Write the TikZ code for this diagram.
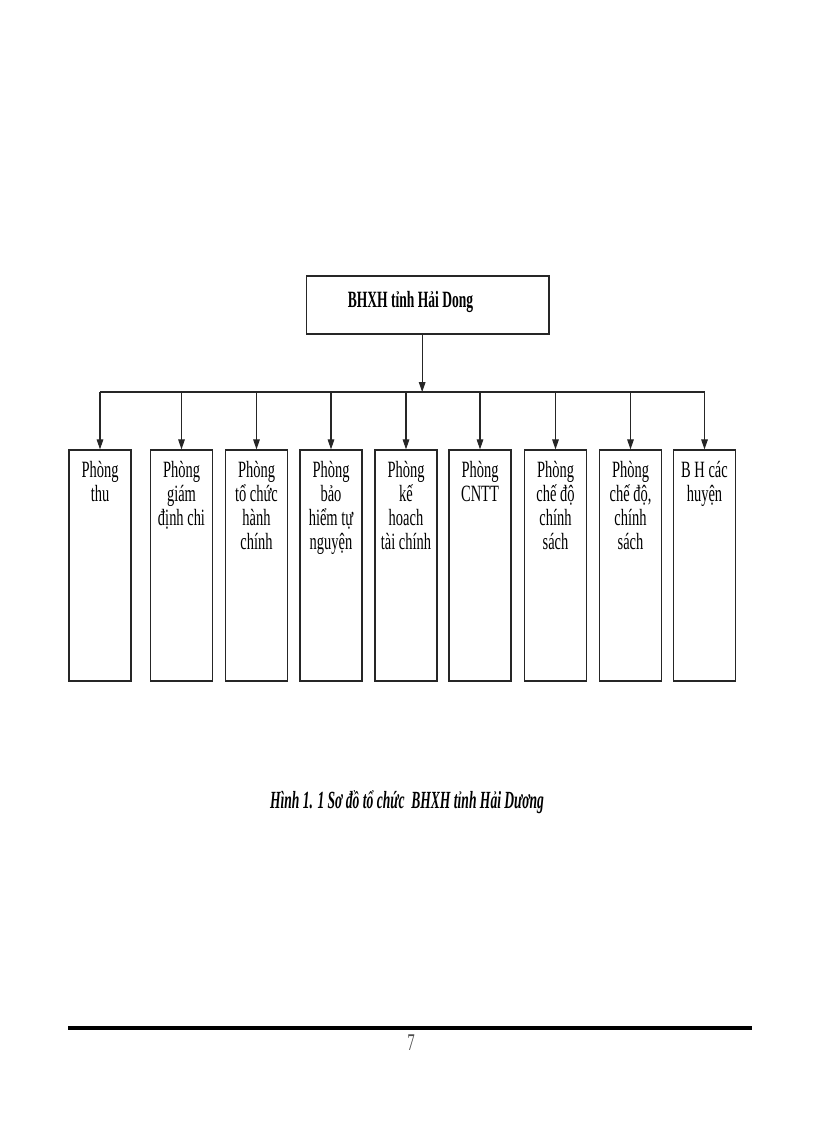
\documentclass[tikz,border=0pt]{standalone}
\usepackage{fontspec}
\usetikzlibrary{arrows.meta}
\newfontfamily\boxfont[FakeStretch=0.62]{Liberation Serif}
\newfontfamily\headfont[FakeStretch=0.58]{Liberation Serif}
\newfontfamily\captfont[FakeStretch=0.55]{Liberation Serif}
\setlength{\lineskiplimit}{-20pt}

\begin{document}
\begin{tikzpicture}[x=0.75pt, y=-0.75pt,
    unitbox/.style={rectangle, draw=black!85, line width=1pt, minimum width=46.5pt, minimum height=173.25pt, inner sep=0pt},
    unittext/.style={anchor=north, align=center, inner sep=0pt, font=\boxfont\fontsize{17.5}{18}\selectfont},
    arr/.style={-{Triangle[length=7.5pt, width=5pt]}, line width=0.8pt, draw=black!85}]
                \useasboundingbox (0,0) rectangle (816,1123);

                % Top unit
                \node[rectangle, draw=black!85, line width=1pt, minimum width=182pt, minimum height=43.5pt, inner sep=0pt] (bhxh) at (427.5,305) {};
                \node[anchor=base, inner sep=0pt, font=\headfont\bfseries\fontsize{17.5}{20}\selectfont] (bhxhtext) at (410.5,307) {BHXH tỉnh Hải Dong};

                \coordinate (bus) at (0,392);

                % Departments
                \node[unitbox] (b1) at (100,565.5) {};
                \node[unitbox] (b2) at (181.5,565.5) {};
                \node[unitbox] (b3) at (256.5,565.5) {};
                \node[unitbox] (b4) at (331,565.5) {};
                \node[unitbox] (b5) at (406,565.5) {};
                \node[unitbox] (b6) at (480,565.5) {};
                \node[unitbox] (b7) at (555.5,565.5) {};
                \node[unitbox] (b8) at (630.5,565.5) {};
                \node[unitbox] (b9) at (704.5,565.5) {};

                \node[unittext] (t1) at (100,461) {Phòng\\thu};
                \node[unittext] (t2) at (181.5,461) {Phòng\\giám\\định chi};
                \node[unittext] (t3) at (256.5,461) {Phòng\\tổ chức\\hành\\chính};
                \node[unittext] (t4) at (331,461) {Phòng\\bảo\\hiểm tự\\nguyện};
                \node[unittext] (t5) at (406,461) {Phòng\\kế\\hoach\\tài chính};
                \node[unittext] (t6) at (480,461) {Phòng\\CNTT};
                \node[unittext] (t7) at (555.5,461) {Phòng\\chế độ\\chính\\sách};
                \node[unittext] (t8) at (630.5,461) {Phòng\\chế độ,\\chính\\sách};
                \node[unittext] (t9) at (704.5,461) {B H các\\huyện};

                % Connectors
                \draw[arr] ([xshift=-4pt]bhxh.south) -- ([xshift=-4pt]bhxh.south |- bus);
                \draw[line width=0.8pt, draw=black!85] (b1.north |- bus) -- (b9.north |- bus);
                \draw[arr] (b1.north |- bus) -- (b1.north);
                \draw[arr] (b2.north |- bus) -- (b2.north);
                \draw[arr] (b3.north |- bus) -- (b3.north);
                \draw[arr] (b4.north |- bus) -- (b4.north);
                \draw[arr] (b5.north |- bus) -- (b5.north);
                \draw[arr] (b6.north |- bus) -- (b6.north);
                \draw[arr] (b7.north |- bus) -- (b7.north);
                \draw[arr] (b8.north |- bus) -- (b8.north);
                \draw[arr] (b9.north |- bus) -- (b9.north);

                % Caption and page footer
                \node[anchor=base, inner sep=0pt, font=\captfont\bfseries\itshape\fontsize{18.5}{22}\selectfont] (caption) at (407,808) {Hình 1. 1 Sơ đồ tổ chức\ \ BHXH tỉnh Hải Dương};
                \coordinate (ruleL) at (68,1028);
                \coordinate (ruleR) at (752,1028);
                \draw[line width=2.4pt] (ruleL) -- (ruleR);
                \node[inner sep=0pt, text=black!70, font=\boxfont\fontsize{18}{24}\selectfont] (pageno) at (411,1043) {7};
            \end{tikzpicture}
\end{document}
